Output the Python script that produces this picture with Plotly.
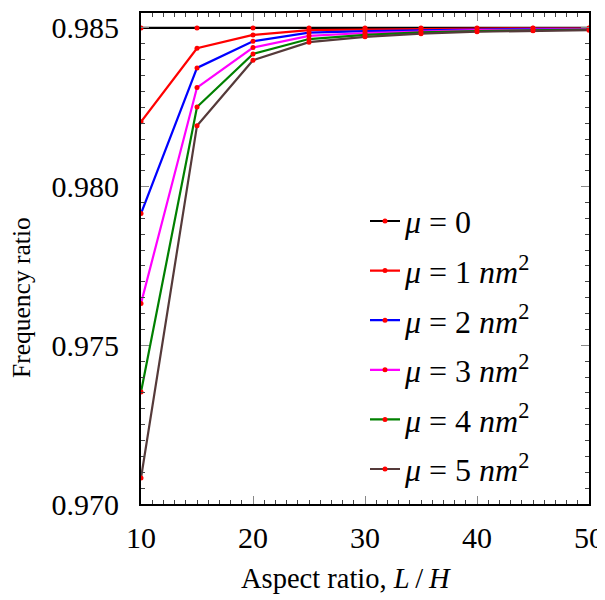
import plotly.graph_objects as go

aspect = [10, 15, 20, 25, 30, 35, 40, 45, 50]
mu0 = [0.98500, 0.98500, 0.98500, 0.98500, 0.98500, 0.98500, 0.98500, 0.98500, 0.98500]
mu1 = [0.98204, 0.98436, 0.98478, 0.98493, 0.98495, 0.98497, 0.98498, 0.98499, 0.98499]
mu2 = [0.97915, 0.98374, 0.98458, 0.98485, 0.98490, 0.98493, 0.98495, 0.98497, 0.98497]
mu3 = [0.97632, 0.98312, 0.98438, 0.98475, 0.98484, 0.98489, 0.98493, 0.98495, 0.98496]
mu4 = [0.97353, 0.98251, 0.98418, 0.98465, 0.98478, 0.98486, 0.98490, 0.98493, 0.98495]
mu5 = [0.97082, 0.98192, 0.98398, 0.98455, 0.98472, 0.98482, 0.98488, 0.98491, 0.98493]

series = [mu0, mu1, mu2, mu3, mu4, mu5]
names = ["<i>μ</i> = 0",
         "<i>μ</i> = 1 <i>nm</i><sup>2</sup>",
         "<i>μ</i> = 2 <i>nm</i><sup>2</sup>",
         "<i>μ</i> = 3 <i>nm</i><sup>2</sup>",
         "<i>μ</i> = 4 <i>nm</i><sup>2</sup>",
         "<i>μ</i> = 5 <i>nm</i><sup>2</sup>"]
colors = ["#000000", "#ff0000", "#0000ff", "#ff00ff", "#008000", "#553a3a"]

y_ticks = [0.970, 0.975, 0.980, 0.985]
x_ticks = [10, 20, 30, 40, 50]
x_title = "Aspect ratio, <i>L</i>\u2009/\u2009<i>H</i>"
y_title = "Frequency ratio"

fig = go.Figure()
for i, (vals, nm, c) in enumerate(zip(series, names, colors)):
    fig.add_trace(go.Scatter(
        x=aspect, y=vals, name=nm, mode="lines+markers",
        line=dict(color=c, width=2.2),
        marker=dict(color="#ff0000", size=5),
        legendgroup=f"g{i}",
    ))

font = "Liberation Serif, Times New Roman, serif"
fig.update_layout(
    width=597, height=592,
    margin=dict(l=133, r=16, t=5, b=96, autoexpand=False),
    plot_bgcolor="white", paper_bgcolor="white",
    font=dict(family=font, size=30, color="black"),
    showlegend=True,
    legend=dict(x=0.5, y=0.632, xanchor="left", yanchor="top",
                bgcolor="rgba(0,0,0,0)", font=dict(size=32),
                tracegroupgap=5, traceorder="grouped",
                itemwidth=30),
    xaxis=dict(range=[10, 50], tickvals=x_ticks, ticktext=[str(v) for v in x_ticks],
               ticks="inside", ticklen=8, tickwidth=1, tickcolor="#888",
               showline=True, linecolor="black", linewidth=2, mirror="ticks",
               showgrid=False, zeroline=False, automargin=False,
               minor=dict(dtick=1, ticks="inside", ticklen=4, tickcolor="#444", showgrid=False),
               ticklabelstandoff=6, tickfont=dict(size=30)),
    yaxis=dict(range=[0.970, 0.98547], tickvals=y_ticks,
               ticktext=[f"{v:.3f}" for v in y_ticks],
               ticks="inside", ticklen=8, tickwidth=1, tickcolor="#888",
               showline=True, linecolor="black", linewidth=2, mirror="ticks",
               showgrid=False, zeroline=False, automargin=False,
               minor=dict(dtick=0.0005, ticks="inside", ticklen=4, tickcolor="#444", showgrid=False),
               ticklabelstandoff=14, tickfont=dict(size=30)),
    annotations=[
        dict(text=x_title, xref="paper", yref="paper", x=0.4576, y=-0.1527,
             xanchor="center", yanchor="middle", showarrow=False,
             font=dict(family=font, size=28.5, color="black")),
        dict(text=y_title, xref="paper", yref="paper", x=-0.2656, y=0.4196,
             xanchor="center", yanchor="middle", showarrow=False, textangle=-90,
             font=dict(family=font, size=25.5, color="black")),
    ],
)

fig.write_html("out.html")
